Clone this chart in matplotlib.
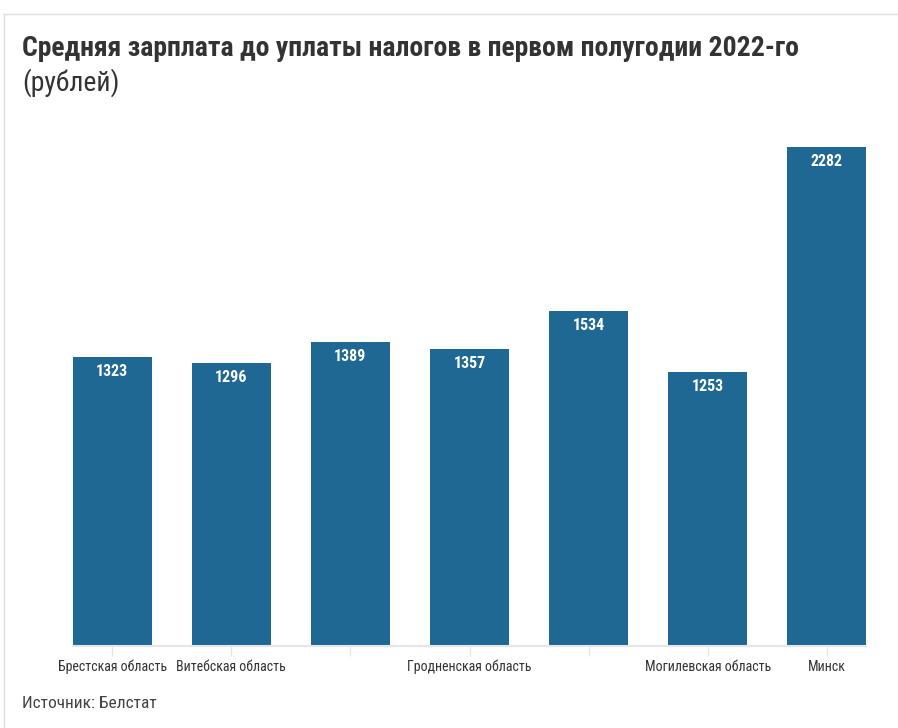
import matplotlib
matplotlib.use("Agg")
import matplotlib.pyplot as plt
from matplotlib import font_manager as fm

categories = ["Брестская область", "Витебская область", "Гомельская область",
              "Гродненская область", "Минская область", "Могилевская область", "Минск"]
tick_labels = ["Брестская область", "Витебская область", "",
               "Гродненская область", "", "Могилевская область", "Минск"]
values = [1323, 1296, 1389, 1357, 1534, 1253, 2282]

# pick a condensed font if available
cond = None
for f in fm.fontManager.ttflist:
    n = f.name
    if ("Condensed" in n or "Narrow" in n) and "Roboto" in n:
        cond = n
        break
if cond is None:
    for f in fm.fontManager.ttflist:
        if "Condensed" in f.name or "Narrow" in f.name:
            cond = f.name
            break
fam = [cond, "Roboto", "DejaVu Sans"] if cond else ["Roboto", "DejaVu Sans"]
plt.rcParams['font.family'] = fam

W, H = 898, 728
fig = plt.figure(figsize=(W/100, H/100), dpi=100)
fig.patch.set_facecolor("white")

# card border
fig.add_artist(plt.Line2D([4/W, 1], [1-14/H, 1-14/H], color="#dddddd", lw=1))
fig.add_artist(plt.Line2D([4/W, 4/W], [0, 1-14/H], color="#dddddd", lw=1))

left, right = 73, 866
top, bottom = 147, 646
ax = fig.add_axes([left/W, 1-bottom/H, (right-left)/W, (bottom-top)/H])
x = list(range(len(values)))
bars = ax.bar(x, values, width=0.66, color="#1f6894", zorder=2)
ax.set_xlim(-0.33, len(values)-1+0.33)
ax.set_ylim(0, max(values))
for s in ["top", "right", "left"]:
    ax.spines[s].set_visible(False)
ax.spines["bottom"].set_color("#e6e6e6")
ax.spines["bottom"].set_linewidth(1.5)
ax.set_yticks([])
ax.set_xticks(x)
ax.set_xticklabels(tick_labels, fontsize=10, color="#333333")
ax.tick_params(axis="x", length=7, color="#e6e6e6", width=1, pad=3)

for xi, v in zip(x, values):
    ax.annotate(str(v), (xi, v), xytext=(0, -5), textcoords="offset points",
                ha="center", va="top", color="white", fontsize=11.5, fontweight="bold")

fig.text(22/W, 1-49/H, "Средняя зарплата до уплаты налогов в первом полугодии 2022-го",
         fontsize=20, fontweight="bold", color="#333333", ha="left", va="center")
fig.text(22/W, 1-83/H, "(рублей)", fontsize=20, color="#333333", ha="left", va="center")
fig.text(22/W, 1-704/H, "Источник: Белстат", fontsize=12.5, color="#444444", ha="left", va="center")

fig.savefig("out.png", dpi=100, facecolor="white")
